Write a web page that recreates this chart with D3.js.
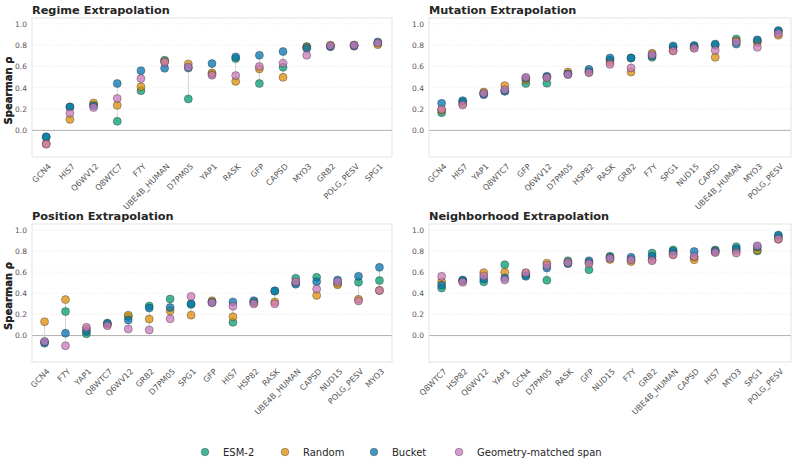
<!DOCTYPE html>
<html>
<head>
<meta charset="utf-8">
<script src="https://cdn.jsdelivr.net/npm/d3@7"></script>
<style>
  body { margin: 0; background: #fff; }
  text { font-family: "DejaVu Sans", sans-serif; }
</style>
</head>
<body>
<svg id="drawing_region"></svg>
<script>
// methods, in drawing order
const methods = ['ESM-2', 'Random', 'Bucket', 'Geometry-matched span'];
const colors = ['#029e73', '#de8f05', '#0173b2', '#cc78bc'];
const yTicks = [0.0, 0.2, 0.4, 0.6, 0.8, 1.0];

// Regime extrapolation
const regimeCats = ['GCN4', 'HIS7', 'Q6WV12', 'Q8WTC7', 'F7Y', 'UBE4B_HUMAN', 'D7PM05', 'YAP1', 'RASK', 'GFP', 'CAPSD', 'MYO3', 'GRB2', 'POLG_PESV', 'SPG1'];
const regimeEsm    = [-0.065, 0.22, 0.24, 0.085, 0.373, 0.658, 0.295, 0.53, 0.674, 0.44, 0.592, 0.787, 0.79, 0.80, 0.82];
const regimeRandom = [-0.125, 0.103, 0.257, 0.235, 0.41, 0.645, 0.624, 0.539, 0.46, 0.577, 0.498, 0.78, 0.80, 0.80, 0.805];
const regimeBucket = [-0.06, 0.22, 0.23, 0.44, 0.56, 0.583, 0.585, 0.627, 0.69, 0.705, 0.74, 0.77, 0.785, 0.79, 0.83];
const regimeGeo    = [-0.13, 0.16, 0.215, 0.30, 0.486, 0.64, 0.595, 0.517, 0.514, 0.60, 0.63, 0.705, 0.795, 0.80, 0.82];

// Mutation extrapolation
const mutationCats = ['GCN4', 'HIS7', 'YAP1', 'Q8WTC7', 'GFP', 'Q6WV12', 'D7PM05', 'HSP82', 'RASK', 'GRB2', 'F7Y', 'SPG1', 'NUD15', 'CAPSD', 'UBE4B_HUMAN', 'MYO3', 'POLG_PESV'];
const mutationEsm    = [0.166, 0.27, 0.345, 0.37, 0.44, 0.442, 0.53, 0.55, 0.66, 0.68, 0.686, 0.78, 0.79, 0.80, 0.858, 0.84, 0.93];
const mutationRandom = [0.19, 0.25, 0.36, 0.42, 0.473, 0.50, 0.548, 0.55, 0.64, 0.548, 0.724, 0.75, 0.775, 0.686, 0.84, 0.825, 0.893];
const mutationBucket = [0.254, 0.279, 0.335, 0.367, 0.49, 0.508, 0.53, 0.573, 0.68, 0.68, 0.70, 0.793, 0.796, 0.81, 0.81, 0.85, 0.937];
const mutationGeo    = [0.198, 0.238, 0.348, 0.382, 0.498, 0.495, 0.523, 0.542, 0.62, 0.586, 0.71, 0.746, 0.77, 0.752, 0.83, 0.78, 0.91];

// Position extrapolation
const positionCats = ['GCN4', 'F7Y', 'YAP1', 'Q8WTC7', 'Q6WV12', 'GRB2', 'D7PM05', 'SPG1', 'GFP', 'HIS7', 'HSP82', 'RASK', 'UBE4B_HUMAN', 'CAPSD', 'NUD15', 'POLG_PESV', 'MYO3'];
const positionEsm    = [-0.06, 0.227, 0.016, 0.11, 0.18, 0.28, 0.346, 0.295, 0.315, 0.125, 0.31, 0.42, 0.542, 0.551, 0.49, 0.505, 0.52];
const positionRandom = [0.131, 0.34, 0.06, 0.105, 0.193, 0.156, 0.234, 0.193, 0.33, 0.178, 0.32, 0.318, 0.50, 0.38, 0.48, 0.343, 0.425];
const positionBucket = [-0.072, 0.022, 0.04, 0.118, 0.146, 0.26, 0.265, 0.30, 0.315, 0.318, 0.33, 0.424, 0.486, 0.51, 0.526, 0.56, 0.645];
const positionGeo    = [-0.056, -0.097, 0.078, 0.093, 0.062, 0.053, 0.159, 0.37, 0.31, 0.277, 0.30, 0.30, 0.508, 0.44, 0.51, 0.327, 0.427];

// Neighborhood extrapolation
const neighborCats = ['Q8WTC7', 'HSP82', 'Q6WV12', 'YAP1', 'GCN4', 'D7PM05', 'RASK', 'GFP', 'NUD15', 'F7Y', 'GRB2', 'UBE4B_HUMAN', 'CAPSD', 'HIS7', 'MYO3', 'SPG1', 'POLG_PESV'];
const neighborEsm    = [0.449, 0.52, 0.508, 0.67, 0.57, 0.523, 0.707, 0.623, 0.75, 0.72, 0.78, 0.81, 0.74, 0.81, 0.84, 0.80, 0.94];
const neighborRandom = [0.508, 0.515, 0.595, 0.598, 0.59, 0.685, 0.69, 0.69, 0.72, 0.70, 0.72, 0.77, 0.717, 0.79, 0.80, 0.81, 0.91];
const neighborBucket = [0.477, 0.526, 0.536, 0.545, 0.56, 0.64, 0.68, 0.707, 0.74, 0.74, 0.75, 0.797, 0.795, 0.80, 0.82, 0.838, 0.95];
const neighborGeo    = [0.56, 0.505, 0.564, 0.526, 0.595, 0.664, 0.69, 0.68, 0.73, 0.716, 0.707, 0.763, 0.748, 0.785, 0.78, 0.85, 0.913];

const panels = [
    {title: 'Regime Extrapolation', cats: regimeCats, series: [regimeEsm, regimeRandom, regimeBucket, regimeGeo],
     left: 32, right: 392, top: 18, bottom: 157},
    {title: 'Mutation Extrapolation', cats: mutationCats, series: [mutationEsm, mutationRandom, mutationBucket, mutationGeo],
     left: 429, right: 791, top: 18, bottom: 157},
    {title: 'Position Extrapolation', cats: positionCats, series: [positionEsm, positionRandom, positionBucket, positionGeo],
     left: 32, right: 392, top: 224, bottom: 362},
    {title: 'Neighborhood Extrapolation', cats: neighborCats, series: [neighborEsm, neighborRandom, neighborBucket, neighborGeo],
     left: 429, right: 791, top: 224, bottom: 362},
];

const svg = d3.select('#drawing_region')
    .attr('width', 798)
    .attr('height', 465);

panels.forEach(p => {
    const g = svg.append('g');

    const x = d3.scalePoint()
        .domain(p.cats)
        .range([p.left, p.right])
        .padding(0.6);

    const y = d3.scaleLinear()
        .domain([-0.25, 1.055])
        .range([p.bottom, p.top]);

    // grid
    g.append('g')
        .selectAll('line').data(yTicks.filter(t => t > 0))
        .join('line')
        .attr('x1', p.left).attr('x2', p.right)
        .attr('y1', d => y(d)).attr('y2', d => y(d))
        .attr('stroke', '#e6e6e6')
        .attr('stroke-width', 0.6)
        .attr('stroke-dasharray', '1.5,1.5');

    // zero line
    g.append('line')
        .attr('x1', p.left).attr('x2', p.right)
        .attr('y1', y(0)).attr('y2', y(0))
        .attr('stroke', '#b0b0b0')
        .attr('stroke-width', 1);

    // frame
    g.append('rect')
        .attr('x', p.left).attr('y', p.top)
        .attr('width', p.right - p.left).attr('height', p.bottom - p.top)
        .attr('fill', 'none')
        .attr('stroke', '#dcdcdc')
        .attr('stroke-width', 0.8);

    // y axis
    const yaxis = d3.axisLeft(y)
        .tickValues(yTicks)
        .tickFormat(d3.format('.1f'))
        .tickSize(0)
        .tickPadding(5);
    const ya = g.append('g')
        .attr('transform', `translate(${p.left},0)`)
        .call(yaxis);
    ya.select('.domain').remove();
    ya.selectAll('text')
        .attr('fill', '#555')
        .style('font-size', '7.5px');

    // x axis
    const xaxis = d3.axisBottom(x).tickSize(0).tickPadding(0);
    const xa = g.append('g')
        .attr('transform', `translate(0,${p.bottom})`)
        .call(xaxis);
    xa.select('.domain').remove();
    xa.selectAll('text')
        .attr('fill', '#555')
        .style('font-size', '8px')
        .attr('text-anchor', 'end')
        .attr('dy', '0.35em')
        .attr('transform', 'translate(3,8) rotate(-45)');

    // title
    g.append('text')
        .attr('x', p.left)
        .attr('y', p.top - 4)
        .attr('fill', '#262626')
        .style('font-size', '11.3px')
        .style('font-weight', 'bold')
        .text(p.title);

    // y label
    g.append('text')
        .attr('transform', `translate(12,${(p.top + p.bottom) / 2 + 3}) rotate(-90)`)
        .attr('text-anchor', 'middle')
        .attr('fill', '#262626')
        .style('font-size', '10px')
        .style('font-weight', 'bold')
        .text('Spearman ρ');

    // range lines
    const ranges = p.cats.map((c, i) => {
        const vals = p.series.map(s => s[i]);
        return {cat: c, lo: d3.min(vals), hi: d3.max(vals)};
    });
    g.append('g')
        .selectAll('line').data(ranges)
        .join('line')
        .attr('x1', d => x(d.cat)).attr('x2', d => x(d.cat))
        .attr('y1', d => y(d.lo)).attr('y2', d => y(d.hi))
        .attr('stroke', '#d5d5d5')
        .attr('stroke-width', 1);

    // points
    p.series.forEach((s, k) => {
        g.append('g')
            .selectAll('circle').data(s)
            .join('circle')
            .attr('cx', (d, i) => x(p.cats[i]))
            .attr('cy', d => y(d))
            .attr('r', 4)
            .attr('fill', colors[k])
            .attr('fill-opacity', 0.75)
            .attr('stroke', '#333')
            .attr('stroke-opacity', 0.8)
            .attr('stroke-width', 0.5);
    });
});

// legend
const legendX = [205, 285, 374, 459];
const legend = svg.append('g');
methods.forEach((m, k) => {
    legend.append('circle')
        .attr('cx', legendX[k]).attr('cy', 452)
        .attr('r', 3.8)
        .attr('fill', colors[k])
        .attr('fill-opacity', 0.75)
        .attr('stroke', '#333')
        .attr('stroke-opacity', 0.8)
        .attr('stroke-width', 0.5);
    legend.append('text')
        .attr('x', legendX[k] + 18).attr('y', 452)
        .attr('dy', '0.35em')
        .attr('fill', '#262626')
        .style('font-size', '10px')
        .text(m);
});
</script>
</body>
</html>
